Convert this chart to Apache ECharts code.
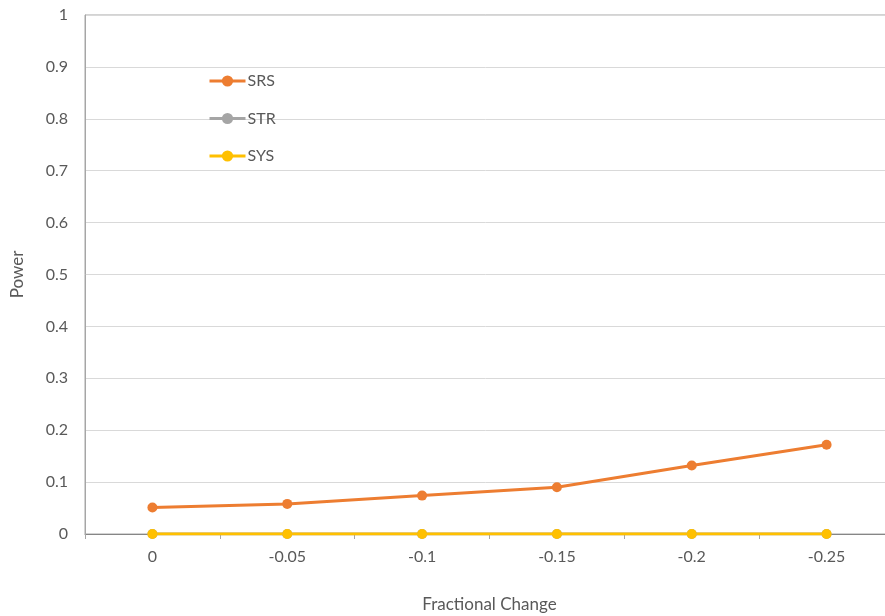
<!DOCTYPE html>
<html>
<head>
<meta charset="utf-8">
<script src="https://cdn.jsdelivr.net/npm/echarts@6/dist/echarts.min.js"></script>
<style>
  html, body { margin: 0; padding: 0; background: #fff; }
  #chart { width: 885px; height: 616px; }
</style>
</head>
<body>
<div id="chart"></div>
<script>
// Fractional change categories along the x axis
const categories = ['0', '-0.05', '-0.1', '-0.15', '-0.2', '-0.25'];
// Power for each sampling design
const srs = [0.051, 0.058, 0.074, 0.090, 0.132, 0.172];
const str = [0, 0, 0, 0, 0, 0];
const sys = [0, 0, 0, 0, 0, 0];
// Y axis range and step
const yMin = 0, yMax = 1, yStep = 0.1;

const font = 'Lato, "Open Sans", sans-serif';
const textColor = '#595959';

function lineSeries(name, data, color) {
  return {
    name: name,
    type: 'line',
    data: data,
    symbol: 'circle',
    symbolSize: 10,
    lineStyle: { width: 3, color: color },
    itemStyle: { color: color },
    emphasis: { disabled: true },
    animation: false
  };
}

const chart = echarts.init(document.getElementById('chart'), null, { renderer: 'canvas' });
chart.setOption({
  backgroundColor: '#ffffff',
  grid: {
    left: 85, top: 15, width: 809, height: 519,
    outerBoundsMode: 'none',
    containLabel: false,
    show: true, borderColor: '#a6a6a6', borderWidth: 1
  },
  legend: {
    orient: 'vertical',
    left: 203, top: 68,
    itemWidth: 36, itemHeight: 14,
    itemGap: 21.5,
    lineStyle: { width: 3 },
    textStyle: { fontFamily: font, fontSize: 16, color: textColor, padding: [0, 0, 0, -3] },
    data: ['SRS', 'STR', 'SYS']
  },
  xAxis: {
    type: 'category',
    data: categories,
    boundaryGap: true,
    name: 'Fractional Change',
    nameLocation: 'middle',
    nameGap: 62,
    nameTextStyle: { fontFamily: font, fontSize: 17, color: textColor },
    axisLine: { lineStyle: { color: '#868686', width: 1 } },
    axisTick: { show: true, length: 5, alignWithLabel: false, lineStyle: { color: '#a6a6a6' } },
    axisLabel: { fontFamily: font, fontSize: 16, color: textColor, margin: 15 },
    splitLine: { show: false }
  },
  yAxis: {
    type: 'value',
    min: yMin, max: yMax, interval: yStep,
    name: 'Power',
    nameLocation: 'middle',
    nameGap: 59,
    nameRotate: 90,
    nameTextStyle: { fontFamily: font, fontSize: 17, color: textColor },
    axisLine: { show: true, lineStyle: { color: '#a6a6a6', width: 1 } },
    axisTick: { show: false },
    axisLabel: {
      fontFamily: font, fontSize: 16, color: textColor, margin: 17,
      formatter: v => String(Math.round(v * 10) / 10)
    },
    splitLine: { show: true, lineStyle: { color: '#d9d9d9', width: 1 } }
  },
  series: [
    lineSeries('SRS', srs, '#ED7D31'),
    lineSeries('STR', str, '#A5A5A5'),
    lineSeries('SYS', sys, '#FFC000')
  ]
});
</script>
</body>
</html>
